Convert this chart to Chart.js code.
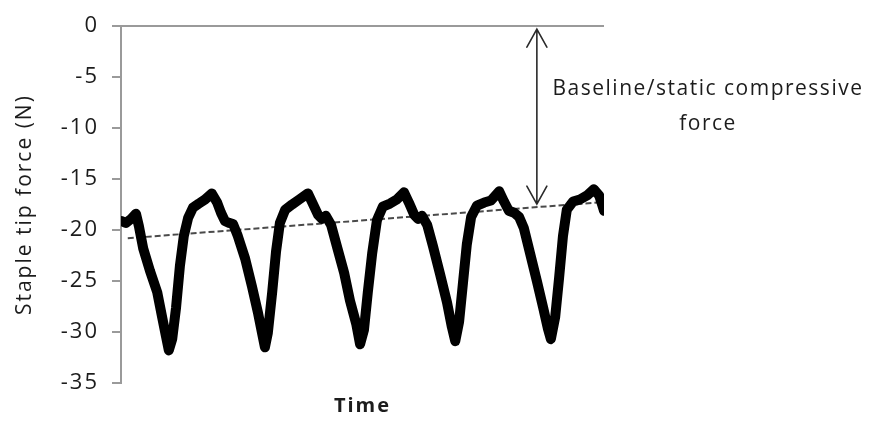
<!DOCTYPE html>
<html>
<head>
<meta charset="utf-8">
<script src="https://cdn.jsdelivr.net/npm/chart.js@4/dist/chart.umd.min.js"></script>
<style>
  html, body { margin: 0; padding: 0; background: #ffffff; }
  #wrap { width: 870px; height: 423px; }
</style>
</head>
<body>
<div id="wrap"><canvas id="chart" width="870" height="423"></canvas></div>
<script>
// Staple tip force over time (arbitrary time units 0-100)
const time = [
  0, 1.0, 2.1, 3.1, 3.7, 4.6, 6.0, 7.5, 8.5, 9.3, 9.9, 10.6, 11.4, 12.2, 13.0, 13.9, 14.9, 16.1, 17.4, 18.8,
  19.9, 20.7, 21.5, 22.4, 23.2, 24.2, 25.7, 27.1, 28.4, 29.2, 29.8, 30.4, 31.3, 32.1, 32.9, 34.0, 35.4, 36.9, 38.7,
  39.8, 40.8, 41.6, 42.4, 43.5, 44.7, 46.2, 47.4, 48.7, 49.5, 50.3, 51.1, 52.0, 53.0, 54.2, 55.7, 57.1, 58.6,
  59.6, 60.7, 61.5, 62.3, 63.4, 64.6, 66.0, 67.5, 68.5, 69.2, 70.0, 70.8, 71.6, 72.5, 73.7, 75.2, 76.6, 78.3,
  79.3, 80.3, 81.4, 82.4, 83.4, 84.7, 86.1, 87.4, 88.4, 89.0, 89.9, 90.7, 91.5, 92.3, 93.6, 95.0, 96.5, 97.9,
  99.0, 99.6, 100
];
const force = [
  -19.1, -19.3, -18.9, -18.4, -19.6, -21.8, -24.0, -26.1, -28.5, -30.4, -31.8, -30.7, -27.6, -23.5, -20.6, -18.8, -17.8, -17.4, -17.0, -16.4,
  -17.3, -18.3, -19.1, -19.3, -19.4, -20.6, -22.8, -25.5, -28.2, -30.1, -31.5, -30.1, -26.1, -22.1, -19.3, -18.0, -17.5, -17.0, -16.4,
  -17.5, -18.5, -18.9, -18.6, -19.5, -21.6, -24.2, -26.9, -29.2, -31.2, -29.8, -26.1, -22.3, -19.0, -17.7, -17.4, -17.0, -16.3,
  -17.3, -18.5, -18.9, -18.6, -19.5, -21.6, -24.2, -27.1, -29.5, -30.9, -29.0, -25.2, -21.4, -18.7, -17.6, -17.3, -17.1, -16.2,
  -17.2, -18.1, -18.3, -18.7, -19.8, -22.3, -25.0, -27.6, -29.7, -30.7, -28.5, -24.7, -20.6, -18.0, -17.2, -17.0, -16.6, -16.0,
  -16.6, -17.5, -18.1
];

// Linear baseline trend through the signal
const trendTime = [1.4, 100];
const trendForce = [-20.8, -17.25];

// Where the baseline arrow is drawn, and its caption
const arrowTime = 86.1;
const annotationLines = ['Baseline/static compressive', 'force'];

// Axis range and ticks
const yMin = -35, yMax = 0, yStep = 5;
const xMin = 0, xMax = 100;

const TEXT = '#1c1c1c';
const AXIS = '#9a9a9a';
const FONT = "'Open Sans', 'DejaVu Sans', sans-serif";

function trendAt(t) {
  const f = (t - trendTime[0]) / (trendTime[1] - trendTime[0]);
  return trendForce[0] + f * (trendForce[1] - trendForce[0]);
}

const spacingPlugin = {
  id: 'spacing',
  beforeDraw(chart) { chart.ctx.letterSpacing = '2px'; }
};

const arrowPlugin = {
  id: 'baselineArrow',
  afterDatasetsDraw(chart) {
    const { ctx, scales: { x, y }, chartArea } = chart;
    const px = x.getPixelForValue(arrowTime);
    const yTop = y.getPixelForValue(0) + 3;
    const yBot = y.getPixelForValue(trendAt(arrowTime)) - 3;
    const head = 18, half = 10;
    ctx.save();
    ctx.strokeStyle = '#2a2a2a';
    ctx.lineWidth = 1.6;
    ctx.lineCap = 'round';
    ctx.beginPath();
    ctx.moveTo(px, yTop); ctx.lineTo(px, yBot);
    ctx.moveTo(px - half, yTop + head); ctx.lineTo(px, yTop); ctx.lineTo(px + half, yTop + head);
    ctx.moveTo(px - half, yBot - head); ctx.lineTo(px, yBot); ctx.lineTo(px + half, yBot - head);
    ctx.stroke();

    ctx.fillStyle = TEXT;
    ctx.font = "21px " + FONT;
    ctx.letterSpacing = '1.5px';
    ctx.textAlign = 'center';
    ctx.textBaseline = 'middle';
    const cx = chartArea.right + 104;
    annotationLines.forEach((line, i) => ctx.fillText(line, cx, 89 + i * 35));
    ctx.restore();
  }
};

new Chart(document.getElementById('chart'), {
  type: 'line',
  data: {
    datasets: [
      {
        label: 'Staple tip force',
        data: time.map((t, i) => ({ x: t, y: force[i] })),
        borderColor: '#000000',
        borderWidth: 10,
        borderCapStyle: 'round',
        borderJoinStyle: 'round',
        pointRadius: 0,
        tension: 0
      },
      {
        label: 'Baseline trend',
        data: trendTime.map((t, i) => ({ x: t, y: trendForce[i] })),
        borderColor: '#4a4a4a',
        borderWidth: 2,
        borderDash: [6, 3],
        pointRadius: 0
      }
    ]
  },
  options: {
    responsive: false,
    animation: false,
    layout: { padding: { left: 0, right: 266, top: 16, bottom: 0 } },
    plugins: { legend: { display: false }, tooltip: { enabled: false } },
    scales: {
      x: {
        type: 'linear',
        min: xMin, max: xMax,
        ticks: { display: false },
        grid: { display: false },
        border: { display: false },
        title: {
          display: true, text: 'Time', color: TEXT,
          font: { family: FONT, size: 20, weight: 'bold' },
          padding: { top: 0, bottom: 5 }
        },
        afterFit(scale) { scale.height = 40; }
      },
      y: {
        min: yMin, max: yMax,
        ticks: {
          stepSize: yStep, color: TEXT, padding: 13,
          font: { family: FONT, size: 22 }
        },
        grid: {
          color: (c) => (c.tick && c.tick.value === 0 ? AXIS : 'rgba(0,0,0,0)'),
          lineWidth: 2,
          tickColor: AXIS,
          tickLength: 9,
          drawOnChartArea: true
        },
        border: { display: true, color: AXIS, width: 2 },
        title: {
          display: true, text: 'Staple tip force (N)', color: TEXT,
          font: { family: FONT, size: 21 },
          padding: { top: 12, bottom: 0 }
        },
        afterFit(scale) { scale.width = 121; }
      }
    }
  },
  plugins: [spacingPlugin, arrowPlugin]
});
</script>
</body>
</html>
